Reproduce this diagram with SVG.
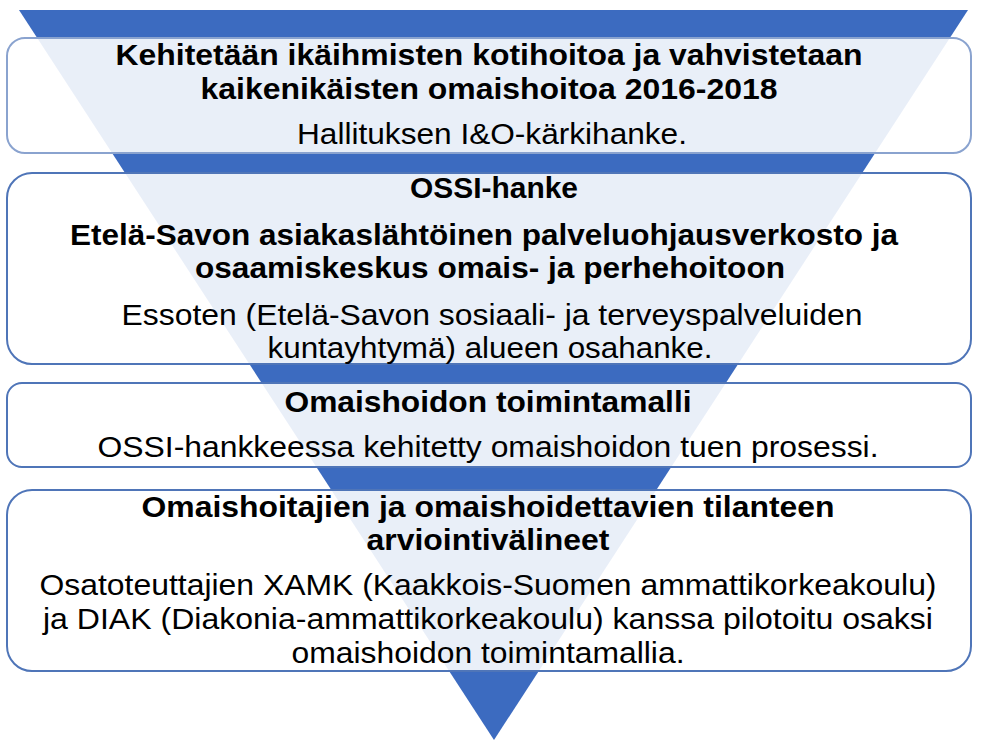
<svg xmlns="http://www.w3.org/2000/svg" width="981" height="745" viewBox="0 0 981 745">
  <style>
    .box { fill: #ffffff; fill-opacity: 0.89; stroke: #4f75b8; stroke-width: 2; }
    .box1 { stroke: #8aa3cf; }
    text { font-family: "Liberation Sans", Arial, sans-serif; font-size: 29px; fill: #000000; text-anchor: middle; }
    .b { font-weight: bold; }
  </style>
  <rect width="981" height="745" fill="#ffffff"/>
  <g id="triangle">
    <polygon points="19,10 968,10 494,740" fill="#3c6bc0"/>
  </g>
  <g id="connectors"></g>
  <g id="node1">
    <rect class="box box1" x="7" y="38" width="964" height="115" rx="18" ry="18"/>
    <text class="b" x="489" y="65" textLength="747" lengthAdjust="spacingAndGlyphs">Kehitetään ikäihmisten kotihoitoa ja vahvistetaan</text>
    <text class="b" x="489" y="99" textLength="577" lengthAdjust="spacingAndGlyphs">kaikenikäisten omaishoitoa 2016-2018</text>
    <text x="492" y="144" textLength="390" lengthAdjust="spacingAndGlyphs">Hallituksen I&amp;O-kärkihanke.</text>
  </g>
  <g id="node2">
    <rect class="box" x="7" y="173" width="964" height="191" rx="25" ry="25"/>
    <text class="b" x="494" y="198" textLength="168" lengthAdjust="spacingAndGlyphs">OSSI-hanke</text>
    <text class="b" x="484" y="245" textLength="828" lengthAdjust="spacingAndGlyphs">Etelä-Savon asiakaslähtöinen palveluohjausverkosto ja</text>
    <text class="b" x="490" y="278" textLength="590" lengthAdjust="spacingAndGlyphs">osaamiskeskus omais- ja perhehoitoon</text>
    <text x="492" y="325" textLength="741" lengthAdjust="spacingAndGlyphs">Essoten (Etelä-Savon sosiaali- ja terveyspalveluiden</text>
    <text x="490" y="358" textLength="445" lengthAdjust="spacingAndGlyphs">kuntayhtymä) alueen osahanke.</text>
  </g>
  <g id="node3">
    <rect class="box" x="7" y="383" width="964" height="84" rx="15" ry="15"/>
    <text class="b" x="488" y="412" textLength="407" lengthAdjust="spacingAndGlyphs">Omaishoidon toimintamalli</text>
    <text x="488" y="457" textLength="781" lengthAdjust="spacingAndGlyphs">OSSI-hankkeessa kehitetty omaishoidon tuen prosessi.</text>
  </g>
  <g id="node4">
    <rect class="box" x="7" y="490" width="964" height="181" rx="25" ry="25"/>
    <text class="b" x="488" y="517" textLength="693" lengthAdjust="spacingAndGlyphs">Omaishoitajien ja omaishoidettavien tilanteen</text>
    <text class="b" x="488" y="550" textLength="243" lengthAdjust="spacingAndGlyphs">arviointivälineet</text>
    <text x="488" y="595" textLength="897" lengthAdjust="spacingAndGlyphs">Osatoteuttajien XAMK (Kaakkois-Suomen ammattikorkeakoulu)</text>
    <text x="488" y="629" textLength="890" lengthAdjust="spacingAndGlyphs">ja DIAK (Diakonia-ammattikorkeakoulu) kanssa pilotoitu osaksi</text>
    <text x="488" y="663" textLength="393" lengthAdjust="spacingAndGlyphs">omaishoidon toimintamallia.</text>
  </g>
</svg>
